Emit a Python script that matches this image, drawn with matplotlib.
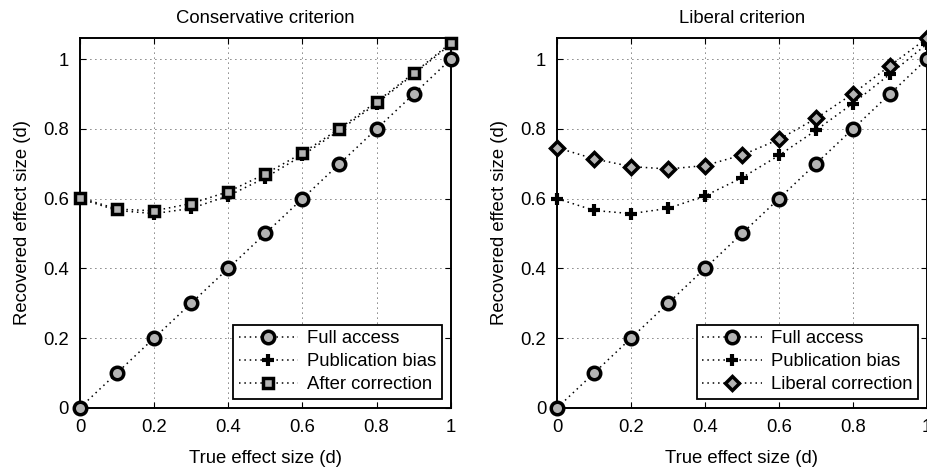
import numpy as np
import matplotlib
matplotlib.use("Agg")
import matplotlib.pyplot as plt
from matplotlib.ticker import FuncFormatter

plt.rcParams['font.family'] = ['Liberation Sans', 'DejaVu Sans']

# data
true_d = [0.0, 0.1, 0.2, 0.3, 0.4, 0.5, 0.6, 0.7, 0.8, 0.9, 1.0]
full_access = [0.0, 0.1, 0.2, 0.3, 0.4, 0.5, 0.6, 0.7, 0.8, 0.9, 1.0]
pub_bias = [0.600, 0.566, 0.557, 0.572, 0.608, 0.660, 0.724, 0.796, 0.873, 0.957, 1.043]
after_corr = [0.603, 0.570, 0.565, 0.586, 0.620, 0.671, 0.731, 0.801, 0.878, 0.960, 1.047]
liberal_corr = [0.746, 0.714, 0.692, 0.685, 0.695, 0.725, 0.770, 0.830, 0.901, 0.981, 1.060]

ticks = [0, 0.2, 0.4, 0.6, 0.8, 1.0]
gray = '#b4b4b4'
dots = (0, (1, 2.5))
FS = 13.3

fig = plt.figure(figsize=(9.28, 4.70), dpi=100)
ax1 = fig.add_axes([80 / 928, 1 - 407.7 / 470, 370.7 / 928, 369.7 / 470])
ax2 = fig.add_axes([557.3 / 928, 1 - 407.7 / 470, 369.4 / 928, 369.7 / 470])


def style_axes(ax, title):
    ax.set_xlim(0, 1)
    ax.set_ylim(0, 1.061)
    ax.set_xticks(ticks)
    ax.set_yticks(ticks)
    fmt = FuncFormatter(lambda v, p: '%g' % v)
    ax.xaxis.set_major_formatter(fmt)
    ax.yaxis.set_major_formatter(fmt)
    ax.tick_params(direction='in', length=4, width=0.8, labelsize=FS,
                   top=True, right=True)
    ax.tick_params(axis='x', pad=8)
    ax.tick_params(axis='y', pad=8)
    ax.grid(True, color='k', linestyle=(0, (1, 5)), linewidth=0.6)
    for s in ax.spines.values():
        s.set_linewidth(1.4)
    ax.set_title(title, fontsize=FS, pad=10.5)
    ax.set_xlabel('True effect size (d)', fontsize=FS, labelpad=10)
    ax.set_ylabel('Recovered effect size (d)', fontsize=FS, labelpad=9)


def plot_series(ax, y, marker, ms, label, face=gray, z=3, mew=2.5):
    ax.plot(true_d, y, color='k', linestyle=dots, linewidth=1.1,
            marker=marker, markersize=ms, markerfacecolor=face,
            markeredgecolor='k', markeredgewidth=mew, label=label,
            clip_on=False, zorder=z)


def add_legend(ax):
    leg = ax.legend(loc='lower right', fontsize=FS, frameon=True, fancybox=False,
                    edgecolor='k', framealpha=1, handlelength=3.2,
                    borderpad=0.3, labelspacing=0.32, handletextpad=0.5,
                    borderaxespad=0.48, numpoints=1)
    leg.get_frame().set_linewidth(1.3)


# conservative criterion
style_axes(ax1, 'Conservative criterion')
plot_series(ax1, full_access, 'o', 9, 'Full access')
plot_series(ax1, pub_bias, '+', 8, 'Publication bias', face='k', mew=3)
plot_series(ax1, after_corr, 's', 6.5, 'After correction', z=4)
add_legend(ax1)

# liberal criterion
style_axes(ax2, 'Liberal criterion')
plot_series(ax2, full_access, 'o', 9, 'Full access')
plot_series(ax2, pub_bias, '+', 8, 'Publication bias', face='k', mew=3)
plot_series(ax2, liberal_corr, 'D', 7, 'Liberal correction', z=4)
add_legend(ax2)

fig.savefig('out.png', dpi=100)
